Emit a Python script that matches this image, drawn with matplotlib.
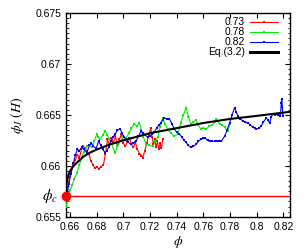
import matplotlib
matplotlib.use("Agg")
import matplotlib.pyplot as plt
from matplotlib.ticker import MultipleLocator

plt.rcParams['font.family'] = ['Liberation Sans', 'DejaVu Sans']
plt.rcParams['mathtext.fontset'] = 'stix'

phi_c = 0.657

# H = 0.73
red_phi = [0.6570, 0.6580, 0.6595, 0.6610, 0.6625, 0.6640, 0.6655, 0.6670, 0.6685, 0.6700,
           0.6715, 0.6725, 0.6740, 0.6755, 0.6770, 0.6785, 0.6800, 0.6815, 0.6830, 0.6850,
           0.6865, 0.6880, 0.6895, 0.6910, 0.6925, 0.6940, 0.6955, 0.6970, 0.6985, 0.7000,
           0.7015, 0.7030, 0.7045, 0.7060, 0.7075, 0.7090, 0.7105, 0.7120, 0.7135, 0.7145,
           0.7160, 0.7175, 0.7190, 0.7205, 0.7215, 0.7225, 0.7235, 0.7245, 0.7255, 0.7265,
           0.7275, 0.7285, 0.7295]
red_val = [0.6566, 0.6578, 0.6588, 0.6595, 0.6601, 0.6606, 0.6611, 0.6608, 0.6616, 0.6619,
           0.6617, 0.6614, 0.6612, 0.6605, 0.6601, 0.6598, 0.6599, 0.6597, 0.6599, 0.6601,
           0.6612, 0.6626, 0.6620, 0.6627, 0.6623, 0.6629, 0.6619, 0.6626, 0.6631, 0.6622,
           0.6619, 0.6624, 0.6627, 0.6621, 0.6618, 0.6623, 0.6616, 0.6612, 0.6610, 0.6608,
           0.6615, 0.6622, 0.6630, 0.6637, 0.6628, 0.6621, 0.6626, 0.6618, 0.6624, 0.6616,
           0.6622, 0.6617, 0.6626]

# H = 0.78
green_phi = [0.6570, 0.6585, 0.6600, 0.6615, 0.6630, 0.6650, 0.6670, 0.6688, 0.6705, 0.6725,
             0.6745, 0.6763, 0.6780, 0.6800, 0.6812, 0.6825, 0.6845, 0.6862, 0.6880, 0.6895,
             0.6912, 0.6937, 0.6955, 0.6975, 0.7000, 0.7020, 0.7040, 0.7060, 0.7082, 0.7100,
             0.7120, 0.7135, 0.7150, 0.7170, 0.7195, 0.7220, 0.7240, 0.7257, 0.7275, 0.7295,
             0.7312, 0.7332, 0.7355, 0.7382, 0.7407, 0.7430, 0.7450, 0.7469, 0.7488, 0.7506,
             0.7525, 0.7544, 0.7562, 0.7581, 0.7600, 0.7620, 0.7645, 0.7665, 0.7685, 0.7697,
             0.7721, 0.7740, 0.7759, 0.7775, 0.7784, 0.7796]
green_val = [0.6560, 0.6570, 0.6576, 0.6581, 0.6587, 0.6593, 0.6601, 0.6609, 0.6614, 0.6619,
             0.6620, 0.6618, 0.6624, 0.6631, 0.6628, 0.6626, 0.6630, 0.6634, 0.6630, 0.6626,
             0.6621, 0.6613, 0.6619, 0.6624, 0.6629, 0.6627, 0.6632, 0.6637, 0.6641, 0.6639,
             0.6642, 0.6635, 0.6628, 0.6621, 0.6620, 0.6619, 0.6624, 0.6628, 0.6638, 0.6647,
             0.6641, 0.6636, 0.6632, 0.6629, 0.6631, 0.6642, 0.6650, 0.6657, 0.6648, 0.6641,
             0.6643, 0.6645, 0.6640, 0.6636, 0.6637, 0.6636, 0.6639, 0.6640, 0.6643, 0.6646,
             0.6641, 0.6640, 0.6638, 0.6635, 0.6634, 0.6641]

# H = 0.82
blue_phi = [0.6570, 0.6580, 0.6590, 0.6605, 0.6625, 0.6640, 0.6655, 0.6670, 0.6688, 0.6705,
            0.6725, 0.6745, 0.6760, 0.6775, 0.6795, 0.6813, 0.6830, 0.6845, 0.6862, 0.6875,
            0.6888, 0.6905, 0.6920, 0.6937, 0.6955, 0.6975, 0.6990, 0.7005, 0.7020, 0.7037,
            0.7057, 0.7075, 0.7094, 0.7112, 0.7132, 0.7150, 0.7165, 0.7182, 0.7200, 0.7215,
            0.7232, 0.7250, 0.7265, 0.7282, 0.7295, 0.7307, 0.7325, 0.7345, 0.7365, 0.7382,
            0.7400, 0.7420, 0.7440, 0.7455, 0.7469, 0.7488, 0.7506, 0.7525, 0.7544, 0.7562,
            0.7581, 0.7600, 0.7615, 0.7631, 0.7646, 0.7665, 0.7684, 0.7705, 0.7720, 0.7734,
            0.7759, 0.7778, 0.7796, 0.7815, 0.7834, 0.7846, 0.7858, 0.7877, 0.7896, 0.7915,
            0.7933, 0.7952, 0.7971, 0.7985, 0.7996, 0.8015, 0.8034, 0.8050, 0.8071, 0.8085,
            0.8096, 0.8110, 0.8121, 0.8135, 0.8146, 0.8160, 0.8171, 0.8178, 0.8184, 0.8188,
            0.8192, 0.8196]
blue_val = [0.6566, 0.6574, 0.6582, 0.6592, 0.6603, 0.6611, 0.6616, 0.6615, 0.6618, 0.6616,
            0.6613, 0.6620, 0.6622, 0.6619, 0.6617, 0.6624, 0.6620, 0.6616, 0.6613, 0.6615,
            0.6618, 0.6624, 0.6628, 0.6631, 0.6635, 0.6636, 0.6632, 0.6628, 0.6625, 0.6623,
            0.6621, 0.6622, 0.6624, 0.6629, 0.6634, 0.6632, 0.6630, 0.6628, 0.6629, 0.6631,
            0.6633, 0.6637, 0.6640, 0.6642, 0.6645, 0.6647, 0.6646, 0.6646, 0.6641, 0.6636,
            0.6633, 0.6631, 0.6628, 0.6625, 0.6623, 0.6620, 0.6618, 0.6619, 0.6621, 0.6624,
            0.6626, 0.6627, 0.6627, 0.6625, 0.6624, 0.6624, 0.6624, 0.6624, 0.6624, 0.6624,
            0.6629, 0.6635, 0.6642, 0.6650, 0.6657, 0.6653, 0.6649, 0.6646, 0.6644, 0.6643,
            0.6642, 0.6640, 0.6638, 0.6637, 0.6636, 0.6637, 0.6639, 0.6643, 0.6647, 0.6645,
            0.6642, 0.6648, 0.6651, 0.6650, 0.6651, 0.6650, 0.6652, 0.6649, 0.6662, 0.6666,
            0.6658, 0.6649]

# Eq.(3.2) curve
eq_phi = [0.6570, 0.6572, 0.6575, 0.6580, 0.6590, 0.6600, 0.6620, 0.6650, 0.6700, 0.6750,
          0.6800, 0.6900, 0.7000, 0.7200, 0.7400, 0.7600, 0.7800, 0.8000, 0.8250]
eq_val = [0.6570, 0.6581, 0.65845, 0.6588, 0.6592, 0.6595, 0.6599, 0.6603, 0.6609, 0.6613,
          0.6616, 0.6621, 0.6625, 0.6632, 0.6637, 0.6642, 0.6646, 0.6649, 0.6653]

x_ticks = [0.66, 0.68, 0.70, 0.72, 0.74, 0.76, 0.78, 0.80, 0.82]
x_labels = ['0.66', '0.68', '0.7', '0.72', '0.74', '0.76', '0.78', '0.8', '0.82']
y_ticks = [0.655, 0.66, 0.665, 0.67, 0.675]
y_labels = ['0.655', '0.66', '0.665', '0.67', '0.675']

fig = plt.figure(figsize=(3.05, 2.49), dpi=100)
ax = fig.add_axes([0.216, 0.1297, 0.735, 0.818])

ax.axhline(phi_c, color='#ff0000', lw=1.0, zorder=2)
line_kw = dict(lw=0.8, marker='s', ms=1.8, mew=0, zorder=3)
ax.plot(red_phi, red_val, color='#ff0000', **line_kw)
ax.plot(green_phi, green_val, color='#00ee00', **line_kw)
ax.plot(blue_phi, blue_val, color='#0000ff', **line_kw)
ax.plot(eq_phi, eq_val, '-', color='black', lw=1.5, zorder=4)
ax.plot([phi_c], [phi_c], 'o', color='#ff0000', ms=6, zorder=5, clip_on=False)

ax.set_xlim(0.6568, 0.825)
ax.set_ylim(0.655, 0.675)
ax.set_xticks(x_ticks)
ax.set_xticklabels(x_labels)
ax.set_yticks(y_ticks)
ax.set_yticklabels(y_labels)
ax.yaxis.set_minor_locator(MultipleLocator(0.0005))
ax.tick_params(which='both', direction='in', top=True, right=True, labelsize=7.5)
ax.tick_params(axis='x', pad=4)
ax.tick_params(which='major', length=3.5, width=0.8)
ax.tick_params(which='minor', length=1.8, width=0.6)
for s in ax.spines.values():
    s.set_linewidth(1.0)

ax.set_xlabel(r'$\phi$', fontsize=10)
ax.xaxis.set_label_coords(0.5, -0.085)
ax.set_ylabel(r'$\phi_J\ (H)$', fontsize=10)
ax.yaxis.set_label_coords(-0.18, 0.5)
ax.text(-0.035, phi_c, r'$\phi_c$', transform=ax.get_yaxis_transform(),
        ha='right', va='center', fontsize=11)

# legend drawn by hand: labels right-aligned, handles on the right
leg_labels = ['0.73', '0.78', '0.82', 'Eq.(3.2)']
leg_colors = ['#ff0000', '#00ee00', '#0000ff', 'black']
leg_y = [0.957, 0.908, 0.859, 0.810]
for lab, col, yy in zip(leg_labels, leg_colors, leg_y):
    ax.text(0.80, yy, lab, transform=ax.transAxes, ha='right', va='center', fontsize=7.5)
    if col == 'black':
        ax.plot([0.822, 0.946], [yy, yy], color=col, lw=2.2, transform=ax.transAxes)
    else:
        ax.plot([0.822, 0.946], [yy, yy], color=col, lw=0.8, transform=ax.transAxes)
        ax.plot([0.884], [yy], 's', color=col, ms=2, mew=0, transform=ax.transAxes)

fig.savefig('out.png', dpi=100)
